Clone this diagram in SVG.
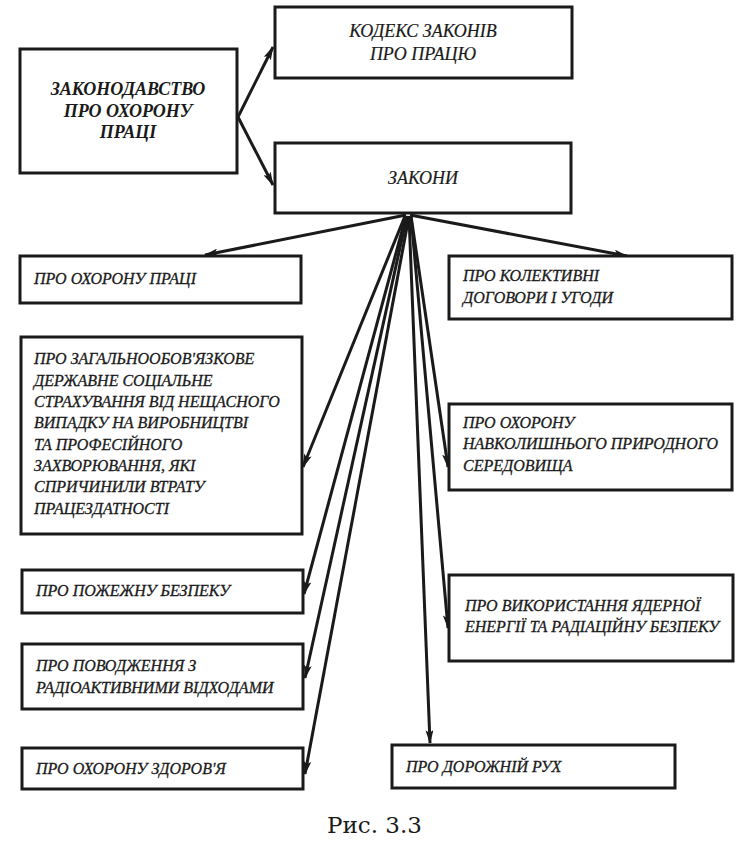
<svg xmlns="http://www.w3.org/2000/svg" width="750" height="848" viewBox="0 0 750 848">
<style>
.box{fill:#fff;stroke:#1a1a1a;stroke-width:3}
.t{font-family:"Liberation Serif","Times New Roman",serif;font-style:italic;font-size:16px;fill:#1a1a1a;stroke:#1a1a1a;stroke-width:0.3}
.tl{font-family:"Liberation Serif","Times New Roman",serif;font-style:italic;font-size:18px;fill:#1a1a1a;stroke:#1a1a1a;stroke-width:0.2}
.tb{font-family:"Liberation Serif","Times New Roman",serif;font-style:italic;font-weight:bold;font-size:18px;fill:#1a1a1a}
.c{stroke:#1a1a1a;stroke-width:3;fill:none;marker-end:url(#ah)}
.cap{font-family:"DejaVu Serif","Liberation Serif",serif;font-size:23px;fill:#1a1a1a}
</style>
<defs>
<marker id="ah" viewBox="0 0 14 8" refX="13" refY="4" markerWidth="14" markerHeight="8" markerUnits="userSpaceOnUse" orient="auto">
<path d="M0,0 L14,4 L0,8 L3,4 z" fill="#1a1a1a"/>
</marker>
</defs>
<rect width="750" height="848" fill="#fff"/>
<g id="connectors">
<path class="c" d="M238,117 L273,47"/>
<path class="c" d="M238,117 L273,185"/>
<path class="c" d="M406,215 L205,255"/>
<path class="c" d="M410,215 L627,256"/>
<path class="c" d="M405,216 L303,467"/>
<path class="c" d="M406,216 L304,594"/>
<path class="c" d="M407,216 L305,678"/>
<path class="c" d="M409,216 L305,774"/>
<path class="c" d="M411,216 L448,467"/>
<path class="c" d="M411,216 L448,628"/>
<path class="c" d="M409,216 L430,743"/>
</g>
<g id="n-main">
<rect class="box" x="20" y="49" width="217" height="124"/>
<text class="tb" text-anchor="middle" x="128" y="95">ЗАКОНОДАВСТВО</text>
<text class="tb" text-anchor="middle" x="128" y="117">ПРО ОХОРОНУ</text>
<text class="tb" text-anchor="middle" x="128" y="138">ПРАЦІ</text>
</g>
<g id="n-kodeks">
<rect class="box" x="275" y="7" width="297" height="71"/>
<text class="tl" text-anchor="middle" x="423" y="37">КОДЕКС ЗАКОНІВ</text>
<text class="tl" text-anchor="middle" x="423" y="60">ПРО ПРАЦЮ</text>
</g>
<g id="n-zakony">
<rect class="box" x="275" y="143" width="296" height="70"/>
<text class="tl" text-anchor="middle" x="423" y="184">ЗАКОНИ</text>
</g>
<g id="n-okhorona-pratsi">
<rect class="box" x="20" y="256" width="281" height="47"/>
<text class="t" x="34" y="284">ПРО ОХОРОНУ ПРАЦІ</text>
</g>
<g id="n-strakhuvannia">
<rect class="box" x="21" y="337" width="281" height="197"/>
<text class="t" x="34" y="364">ПРО ЗАГАЛЬНООБОВ'ЯЗКОВЕ</text>
<text class="t" x="34" y="386">ДЕРЖАВНЕ СОЦІАЛЬНЕ</text>
<text class="t" x="34" y="407">СТРАХУВАННЯ ВІД НЕЩАСНОГО</text>
<text class="t" x="34" y="428">ВИПАДКУ НА ВИРОБНИЦТВІ</text>
<text class="t" x="34" y="450">ТА ПРОФЕСІЙНОГО</text>
<text class="t" x="34" y="471">ЗАХВОРЮВАННЯ, ЯКІ</text>
<text class="t" x="34" y="492">СПРИЧИНИЛИ ВТРАТУ</text>
<text class="t" x="34" y="514">ПРАЦЕЗДАТНОСТІ</text>
</g>
<g id="n-pozhezhna">
<rect class="box" x="22" y="570" width="281" height="43"/>
<text class="t" x="36" y="596">ПРО ПОЖЕЖНУ БЕЗПЕКУ</text>
</g>
<g id="n-povodzhennia">
<rect class="box" x="22" y="644" width="281" height="65"/>
<text class="t" x="36" y="671">ПРО ПОВОДЖЕННЯ З</text>
<text class="t" x="36" y="693">РАДІОАКТИВНИМИ ВІДХОДАМИ</text>
</g>
<g id="n-zdorovia">
<rect class="box" x="22" y="748" width="281" height="41"/>
<text class="t" x="36" y="774">ПРО ОХОРОНУ ЗДОРОВ'Я</text>
</g>
<g id="n-kolektyvni">
<rect class="box" x="449" y="256" width="283" height="63"/>
<text class="t" x="463" y="281">ПРО КОЛЕКТИВНІ</text>
<text class="t" x="463" y="303">ДОГОВОРИ І УГОДИ</text>
</g>
<g id="n-seredovyshche">
<rect class="box" x="449" y="404" width="283" height="86"/>
<text class="t" x="463" y="428">ПРО ОХОРОНУ</text>
<text class="t" x="463" y="449">НАВКОЛИШНЬОГО ПРИРОДНОГО</text>
<text class="t" x="463" y="471">СЕРЕДОВИЩА</text>
</g>
<g id="n-yaderna">
<rect class="box" x="449" y="575" width="284" height="86"/>
<text class="t" x="465" y="611">ПРО ВИКОРИСТАННЯ ЯДЕРНОЇ</text>
<text class="t" x="465" y="632">ЕНЕРГІЇ ТА РАДІАЦІЙНУ БЕЗПЕКУ</text>
</g>
<g id="n-dorozhnii">
<rect class="box" x="392" y="745" width="283" height="43"/>
<text class="t" x="406" y="772">ПРО ДОРОЖНІЙ РУХ</text>
</g>
<text class="cap" x="327" y="833">Рис. 3.3</text>
</svg>
